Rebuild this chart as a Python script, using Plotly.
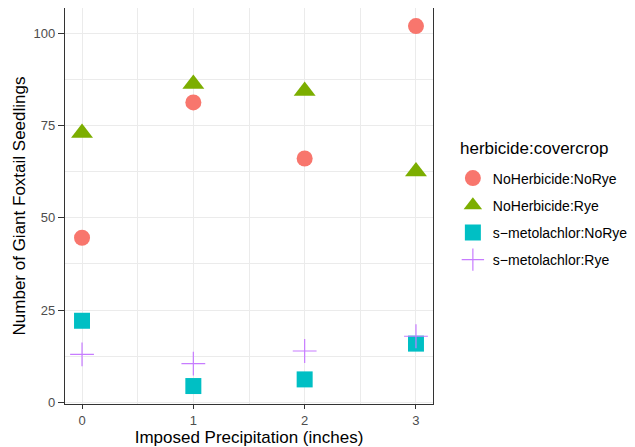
import plotly.graph_objects as go

precip = [0, 1, 2, 3]
groups = ["NoHerbicide:NoRye", "NoHerbicide:Rye", "s\u2212metolachlor:NoRye", "s\u2212metolachlor:Rye"]
noherb_norye = [44.6, 81.3, 66.1, 102.0]
noherb_rye = [73.0, 86.3, 84.4, 62.6]
smet_norye = [22.1, 4.4, 6.2, 15.9]
smet_rye = [13.0, 10.5, 13.9, 17.9]

series = [noherb_norye, noherb_rye, smet_norye, smet_rye]
colors = ["#F8766D", "#7CAE00", "#00BFC4", "#C77CFF"]
symbols = ["circle", "triangle-up", "square", "cross-thin"]
sizes = [16, 19, 16, 17]

fig = go.Figure()
for i, (name, vals) in enumerate(zip(groups, series)):
    marker = dict(color=colors[i], symbol=symbols[i], size=sizes[i])
    if symbols[i] == "cross-thin":
        marker["line"] = dict(color=colors[i], width=1.2)
    else:
        marker["line"] = dict(width=0)
    fig.add_trace(go.Scatter(x=precip, y=vals, mode="markers", name=name,
                             legendgroup=name, marker=marker))

grid = "#EBEBEB"
fam = "Liberation Sans, Arial, sans-serif"
tickfont = dict(family=fam, size=13, color="#4D4D4D")
fig.add_annotation(text="herbicide:covercrop", xref="paper", yref="paper",
                   x=1.068, y=0.646, xanchor="left", yanchor="middle",
                   showarrow=False, font=dict(size=17, family=fam, color="black"))
fig.update_layout(
    width=627, height=439,
    margin=dict(l=57, r=202, t=0, b=43, autoexpand=False),
    plot_bgcolor="white", paper_bgcolor="white",
    font=dict(family=fam, color="black"),
    showlegend=True,
    legend=dict(
        font=dict(size=14),
        x=1.054, xanchor="left", y=0.61, yanchor="top",
        tracegroupgap=6, itemsizing="trace",
    ),
    xaxis=dict(
        range=[-0.153, 3.153], tickvals=precip, ticktext=[str(p) for p in precip],
        tickfont=tickfont, showgrid=True, gridcolor=grid, gridwidth=1.1,
        minor=dict(tickvals=[0.5, 1.5, 2.5], showgrid=True, gridcolor=grid, gridwidth=0.6),
        ticks="outside", ticklen=4, tickcolor="#333333",
        showline=True, linecolor="#333333", linewidth=1.2, mirror=True, zeroline=False,
        title=dict(text="Imposed Precipitation (inches)", font=dict(size=17), standoff=2),
    ),
    yaxis=dict(
        range=[-0.47, 106.9], tickvals=[0, 25, 50, 75, 100],
        tickfont=tickfont, showgrid=True, gridcolor=grid, gridwidth=1.1,
        minor=dict(tickvals=[12.5, 37.5, 62.5, 87.5], showgrid=True, gridcolor=grid, gridwidth=0.6),
        ticks="outside", ticklen=6, tickcolor="#333333",
        showline=True, linecolor="#333333", linewidth=1.2, mirror=True, zeroline=False,
        title=dict(text="Number of Giant Foxtail Seedlings", font=dict(size=17), standoff=3),
    ),
)

fig.write_html("out.html")
